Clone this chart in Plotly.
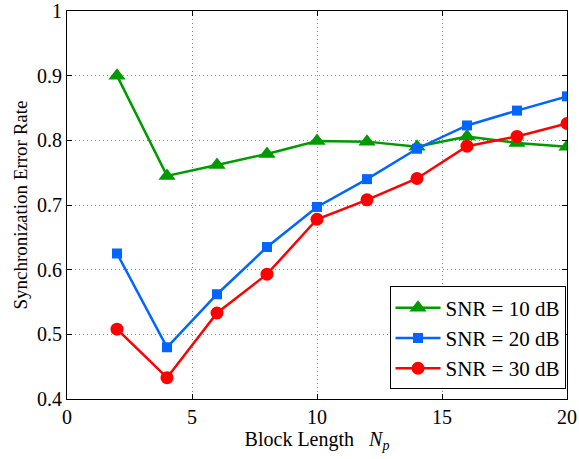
import plotly.graph_objects as go

block_length = [2, 4, 6, 8, 10, 12, 14, 16, 18, 20]
snr10 = [0.900, 0.745, 0.762, 0.779, 0.799, 0.798, 0.790, 0.806, 0.796, 0.790]
snr20 = [0.625, 0.480, 0.562, 0.635, 0.697, 0.740, 0.787, 0.823, 0.846, 0.868]
snr30 = [0.508, 0.433, 0.533, 0.593, 0.678, 0.708, 0.741, 0.791, 0.806, 0.826]

series = [
    ("SNR = 10 dB", snr10, "#009900", "triangle-up", 15),
    ("SNR = 20 dB", snr20, "#0066ff", "square", 10),
    ("SNR = 30 dB", snr30, "#ff0000", "circle", 13),
]

font_family = "Liberation Serif"

fig = go.Figure()
for name, vals, color, sym, size in series:
    fig.add_trace(go.Scatter(
        x=block_length, y=vals, name=name, mode="lines+markers",
        line=dict(color=color, width=2.5),
        marker=dict(symbol=sym, size=size, color=color),
    ))

axis_common = dict(
    showline=True, linecolor="black", linewidth=1, mirror="allticks",
    ticks="inside", ticklen=5, tickcolor="black",
    showgrid=True, gridcolor="#888888", griddash="1px,3px", gridwidth=1,
    zeroline=False, automargin=False,
    tickfont=dict(family=font_family, size=20, color="black"),
)

fig.update_layout(
    width=579, height=459,
    margin=dict(l=67, r=12, t=11, b=60),
    paper_bgcolor="white", plot_bgcolor="white",
    font=dict(family=font_family, color="black"),
    xaxis=dict(range=[0, 20], tickvals=[0, 5, 10, 15, 20],
               title=dict(text="Block Length&nbsp;&nbsp;&nbsp;<i>N</i><sub><i>p</i></sub>",
                          font=dict(family=font_family, size=20, color="black"), standoff=2),
               **axis_common),
    yaxis=dict(range=[0.4, 1.0], tickvals=[0.4, 0.5, 0.6, 0.7, 0.8, 0.9, 1.0],
               ticktext=["0.4", "0.5", "0.6", "0.7", "0.8", "0.9", "1"],
               title=dict(text="Synchronization Error Rate",
                          font=dict(family=font_family, size=19, color="black"), standoff=4),
               **axis_common),
    legend=dict(x=0.997, y=0.29, xanchor="right", yanchor="top",
                bgcolor="white", bordercolor="black", borderwidth=1,
                font=dict(family=font_family, size=21, color="black"),
                tracegroupgap=0, itemwidth=45),
    showlegend=True,
)

fig.write_html(
    "out.html",
    config={"displayModeBar": False},
    post_script="document.body.style.margin='0';document.body.style.padding='0';document.documentElement.style.overflow='hidden';",
)
